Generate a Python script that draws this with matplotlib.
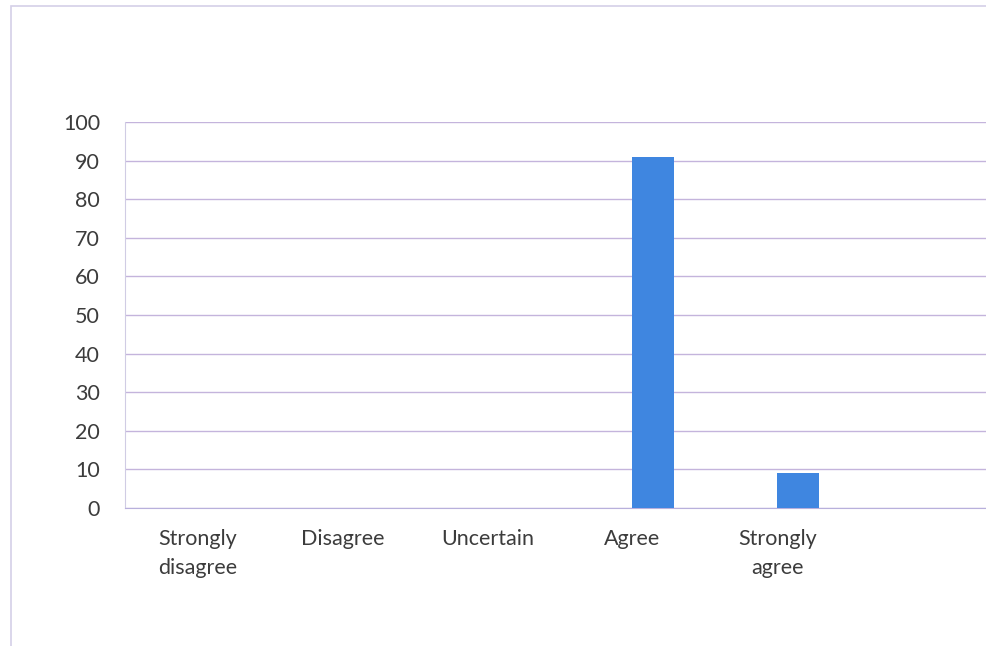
import numpy as np
import matplotlib.pyplot as plt
from matplotlib.patches import Rectangle

categories = ["Strongly\ndisagree", "Disagree", "Uncertain", "Agree", "Strongly\nagree", ""]
series_empty = [0, 0, 0, 0, 0, 0]
series_values = [0, 0, 0, 91, 9, 0]
y_ticks = [0, 10, 20, 30, 40, 50, 60, 70, 80, 90, 100]

plt.rcParams['font.family'] = ['Lato', 'DejaVu Sans']

fig = plt.figure(figsize=(9.87, 6.46), dpi=100)
ax = fig.add_axes([0.1266, 0.2136, 0.8734, 0.5975])

# scan-like outer frame
fig.patches.append(Rectangle((11 / 987, -0.05), 1.1, 1.04, transform=fig.transFigure,
                             fill=False, edgecolor='#d4d0e8', linewidth=1.2))

x = np.arange(len(categories))
w = 0.283
ax.bar(x - w / 2, series_empty, width=w, color='#3f86e0')
ax.bar(x + w / 2, series_values, width=w, color='#3f86e0', zorder=3)

ax.set_xlim(-0.5, 5.445)
ax.set_ylim(0, 100)
ax.set_yticks(y_ticks)
ax.set_xticks(x)
ax.set_xticklabels(categories, linespacing=1.55)
ax.yaxis.grid(True, color='#c4b4dc', linewidth=1.0)
ax.set_axisbelow(True)

for s in ['top', 'right']:
    ax.spines[s].set_visible(False)
ax.spines['left'].set_color('#d0cce4')
ax.spines['bottom'].set_color('#b8b0dc')
ax.tick_params(axis='both', length=0, colors='#3c3c3c', labelsize=15.5)
ax.tick_params(axis='y', pad=18)
ax.tick_params(axis='x', pad=15)

fig.savefig('out.png', dpi=100)
